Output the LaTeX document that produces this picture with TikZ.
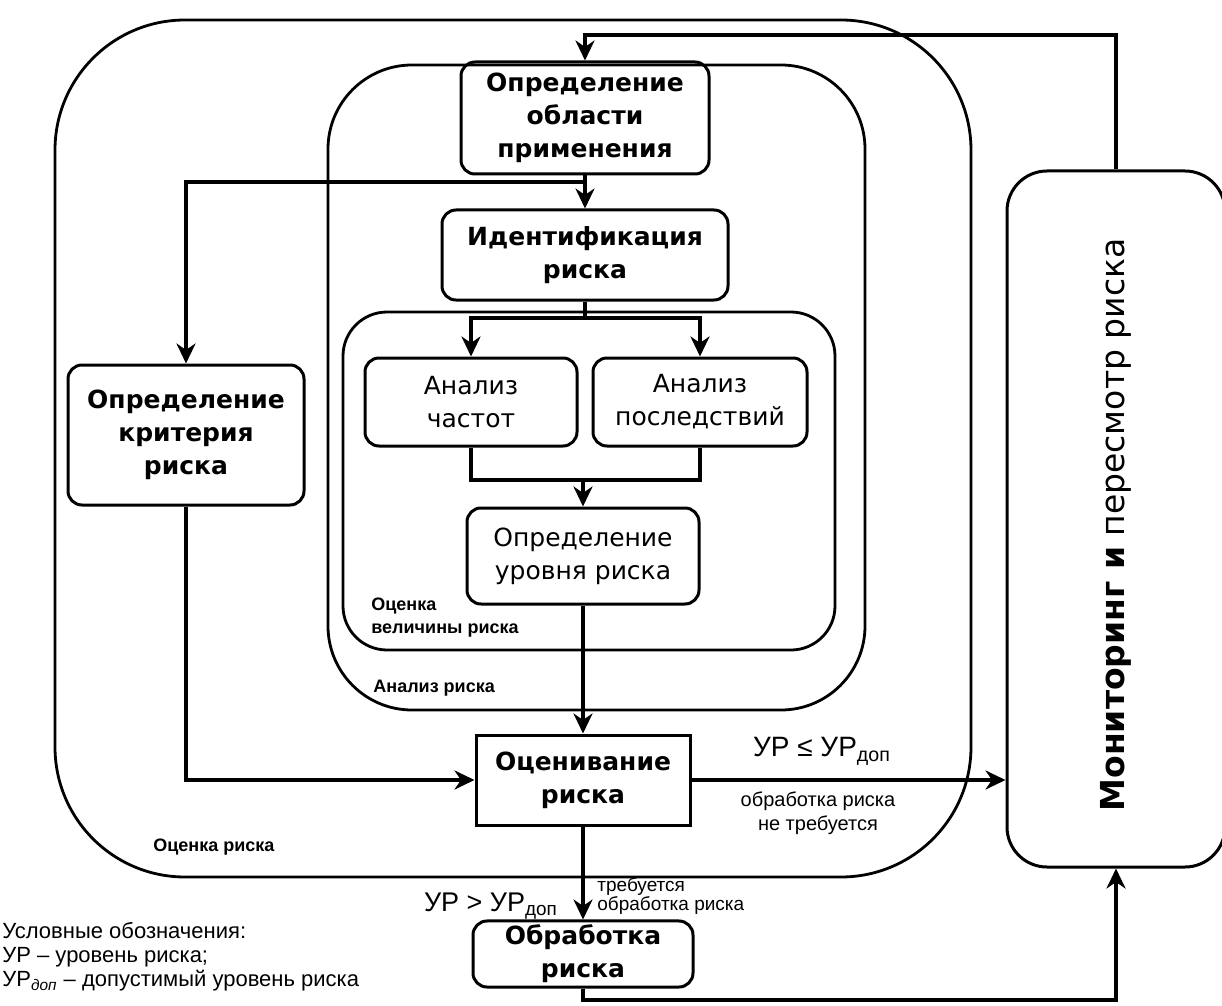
\documentclass[tikz,border=0pt]{standalone}
\usepackage{fontspec}
\setmainfont{DejaVu Sans}
\newfontfamily\arialfont{Liberation Sans}
\usetikzlibrary{arrows.meta}

\tikzset{
  blk/.style={draw, line width=1.5pt, rounded corners=7pt, align=center, inner sep=2pt},
  boldtxt/.style={font=\fontsize{12.5}{16.5}\selectfont\bfseries},
  plaintxt/.style={font=\fontsize{12.5}{16.5}\selectfont},
  arr/.style={line width=1.8pt, -{Stealth[length=10pt,width=9.5pt]}},
  ln/.style={line width=1.8pt},
  frame/.style={line width=1.4pt},
  note/.style={font=\arialfont\fontsize{9}{11.5}\selectfont\bfseries, align=left, inner sep=0pt},
}

\begin{document}
\begin{tikzpicture}[x=0.5pt,y=-0.5pt]
  \useasboundingbox (0,0) rectangle (1222,1006);

  \draw[frame, rounded corners=65pt] (55,20) rectangle (971,877);
  \draw[frame, rounded corners=42pt] (328,65) rectangle (865,710);
  \draw[frame, rounded corners=22pt] (343,312) rectangle (835,650);

  \node[blk, boldtxt, minimum width=124pt, minimum height=56pt] (scope) at (585,118) {Определение\\области\\применения};
  \node[blk, boldtxt, minimum width=143pt, minimum height=45pt] (ident) at (585,255) {Идентификация\\риска};
  \node[blk, plaintxt, minimum width=106pt, minimum height=44pt] (freq) at (471,402) {Анализ\\частот};
  \node[blk, plaintxt, minimum width=107pt, minimum height=44pt] (cons) at (700,402) {Анализ\\последствий};
  \node[blk, plaintxt, minimum width=116pt, minimum height=48pt] (level) at (583,556) {Определение\\уровня риска};
  \node[blk, boldtxt, minimum width=118pt, minimum height=70pt] (crit) at (186,435) {Определение\\критерия\\риска};
  \node[blk, boldtxt, sharp corners, minimum width=107pt, minimum height=45pt] (eval) at (583,780) {Оценивание\\риска};
  \node[blk, boldtxt, minimum width=110pt, minimum height=32pt] (treat) at (583,954) {Обработка\\риска};
  \node[blk, rounded corners=20pt, minimum width=109pt, minimum height=348pt,
        font=\fontsize{16.5}{19}\selectfont] (monitor) at (1116,519)
        {\rotatebox{90}{\textbf{Мониторинг и} пересмотр риска\hspace*{6pt}}};

  \node[note, anchor=north west] (lvlnote) at (371,598) {Оценка\\величины риска};
  \node[note, anchor=west] (ananote) at (373,688) {Анализ риска};
  \node[note, anchor=west] (evnote) at (153,847) {Оценка риска};

  \coordinate (toploop) at (585,35);
  \coordinate (critsplit) at (585,182);
  \coordinate (anasplit) at (585,318);
  \coordinate (anajoin) at (583,480);
  \coordinate (botloop) at (583,1000);

  \draw[arr] (monitor.north) |- (toploop) -- (scope.north);
  \draw[arr] (scope.south) -- (ident.north);
  \draw[arr] (critsplit) -| (crit.north);
  \draw[ln] (ident.south) -- (anasplit);
  \draw[arr] (anasplit) -| (freq.north);
  \draw[arr] (anasplit) -| (cons.north);
  \draw[ln] (freq.south) |- (anajoin);
  \draw[ln] (cons.south) |- (anajoin);
  \draw[arr] (anajoin) -- (level.north);
  \draw[arr] (level.south) -- (eval.north);
  \draw[arr] (crit.south) |- (eval.west);
  \draw[arr] (eval.east) -- (eval.east -| monitor.west);
  \draw[arr] (eval.south) -- (treat.north);
  \draw[arr] (treat.south) -- (botloop) -| (monitor.south);

  \node[font=\arialfont\fontsize{14}{16}\selectfont, anchor=south] (okcond) at (822,772) {УР ≤ УР\textsubscript{доп}};
  \node[font=\arialfont\fontsize{10}{12}\selectfont, align=center, anchor=north] (oknote) at (818,785) {обработка риска\\не требуется};
  \node[font=\arialfont\fontsize{13.5}{16}\selectfont, anchor=east] (badcond) at (565,906) {УР > УР\textsubscript{доп}};
  \node[font=\arialfont\fontsize{9.5}{8}\selectfont, align=left, anchor=west, inner sep=0pt] (badnote) at (597,896) {требуется\\обработка риска};

  \node[font=\arialfont\fontsize{11}{12}\selectfont, align=left, anchor=west, inner sep=0pt] (legend) at (2,957)
    {Условные обозначения:\\УР – уровень риска;\\УР\textsubscript{\textit{доп}} – допустимый уровень риска};
\end{tikzpicture}
\end{document}
